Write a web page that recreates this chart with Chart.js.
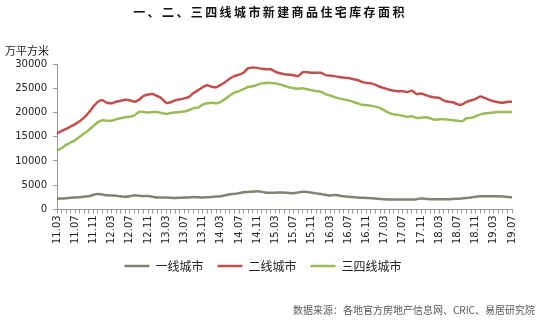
<!DOCTYPE html>
<html>
<head>
<meta charset="utf-8">
<script src="https://cdn.jsdelivr.net/npm/chart.js@4"></script>
<style>
    body { margin: 0; background: #fff; }
    #wrap { position: relative; width: 540px; height: 324px; }
    #chart { position: absolute; left: 0; top: 0; }
    .txt { position: absolute; font-family: "Noto Sans CJK SC", sans-serif; white-space: nowrap; }
    #title { left: 0; width: 540px; top: 3px; text-align: center; font-size: 12px; font-weight: bold; letter-spacing: 2.4px; color: #111; }
    #unit { left: 5px; top: 42px; font-size: 11px; color: #222; }
    #source { right: 5px; top: 302px; font-size: 10px; color: #595959; }
</style>
</head>
<body>
<div id="wrap">
    <canvas id="chart" width="540" height="324"></canvas>
    <div class="txt" id="title">一、二、三四线城市新建商品住宅库存面积</div>
    <div class="txt" id="unit">万平方米</div>
    <div class="txt" id="source">数据来源：各地官方房地产信息网、CRIC、易居研究院</div>
</div>
<script>
// months 2011.03 - 2019.07
const months = [];
for (let y = 11; y <= 19; y++) {
    for (let m = 1; m <= 12; m++) {
        if ((y === 11 && m < 3) || (y === 19 && m > 7)) continue;
        months.push(y + "." + String(m).padStart(2, "0"));
    }
}

const seriesNames = ["一线城市", "二线城市", "三四线城市"];

const tier1 = [
    2200, 2250, 2300, 2400, 2450, 2500, 2650, 2700, 3000, 3150,
    3050, 2900, 2850, 2800, 2700, 2600, 2700, 2900, 2800, 2750,
    2750, 2600, 2450, 2450, 2450, 2400, 2350, 2400, 2450, 2450,
    2550, 2500, 2450, 2500, 2550, 2650, 2700, 2900, 3100, 3200,
    3350, 3550, 3600, 3650, 3750, 3650, 3450, 3450, 3450, 3500,
    3450, 3400, 3350, 3500, 3650, 3600, 3450, 3300, 3150, 3000,
    2850, 2950, 2850, 2700, 2600, 2550, 2450, 2400, 2350, 2300,
    2250, 2150, 2100, 2050, 2050, 2050, 2050, 2050, 2050, 2100,
    2250, 2200, 2100, 2100, 2100, 2100, 2100, 2150, 2200, 2250,
    2350, 2450, 2600, 2700, 2700, 2700, 2700, 2700, 2650, 2550,
    2500
];

const tier2 = [
    15600, 16200, 16600, 17100, 17600, 18200, 19000, 20000, 21200, 22200,
    22500, 22000, 21900, 22200, 22400, 22600, 22500, 22200, 22600, 23400,
    23700, 23800, 23400, 22900, 22000, 22100, 22500, 22700, 22900, 23200,
    24000, 24600, 25200, 25600, 25300, 25200, 25700, 26300, 27000, 27500,
    27800, 28200, 29100, 29300, 29200, 29000, 28900, 28900, 28400, 28100,
    27900, 27800, 27700, 27500, 28300, 28300, 28200, 28200, 28200, 27700,
    27600, 27500, 27300, 27200, 27100, 26900, 26700, 26300, 26100, 26000,
    25700, 25300, 25000, 24700, 24500, 24400, 24400, 24200, 24500, 23800,
    23900, 23600, 23300, 23100, 23000, 22500, 22200, 22100, 21700, 21600,
    22200, 22500, 22800, 23300, 23000, 22600, 22300, 22100, 22000, 22200,
    22200
];

const tier34 = [
    12100, 12600, 13300, 13800, 14300, 15000, 15700, 16400, 17200, 18000,
    18400, 18300, 18300, 18600, 18800, 19000, 19100, 19400, 20100, 20100,
    20000, 20100, 20100, 19900, 19700, 19900, 20000, 20100, 20200, 20500,
    20900, 21000, 21600, 21900, 22000, 21900, 22200, 22800, 23500, 24100,
    24400, 24800, 25300, 25400, 25700, 26000, 26100, 26100, 26000, 25800,
    25500, 25200, 25000, 24900, 25000, 24800, 24600, 24400, 24300, 23800,
    23500, 23200, 22900, 22700, 22500, 22200, 21900, 21600, 21500, 21400,
    21200, 20900, 20400, 19900, 19600, 19500, 19300, 19100, 19200, 18900,
    18900, 19000, 18800, 18500, 18600, 18600, 18500, 18400, 18300, 18200,
    18800, 18900, 19200, 19600, 19800, 19900, 20000, 20100, 20100, 20100,
    20100
];

const colors = ["#7b8570", "#c0504d", "#9bbb59"];

function makeSet(name, data, color) {
    return {
        label: name,
        data: data,
        borderColor: color,
        backgroundColor: color,
        borderWidth: 2.5,
        pointRadius: 0,
        tension: 0.2
    };
}

new Chart(document.getElementById("chart"), {
    type: "line",
    data: {
        labels: months,
        datasets: [
            makeSet(seriesNames[0], tier1, colors[0]),
            makeSet(seriesNames[1], tier2, colors[1]),
            makeSet(seriesNames[2], tier34, colors[2])
        ]
    },
    options: {
        responsive: false,
        animation: false,
        layout: { padding: { top: 64, right: 28, bottom: 42, left: 14 } },
        plugins: {
            title: { display: false },
            tooltip: { enabled: false },
            legend: {
                position: "bottom",
                labels: {
                    usePointStyle: true,
                    pointStyle: "line",
                    pointStyleWidth: 25,
                    boxHeight: 12,
                    padding: 14,
                    color: "#222",
                    font: { family: "Noto Sans CJK SC", size: 12 }
                }
            }
        },
        scales: {
            x: {
                offset: false,
                grid: { display: true, drawOnChartArea: false, tickLength: 4, color: "#999" },
                border: { display: true, color: "#999" },
                ticks: {
                    autoSkip: false,
                    maxRotation: 90,
                    minRotation: 90,
                    padding: 2,
                    color: "#222",
                    font: { family: "DejaVu Sans", size: 10 },
                    callback: function(value, index) {
                        return index % 4 === 0 ? months[index] : "";
                    }
                }
            },
            y: {
                min: 0,
                max: 30000,
                afterFit: function(scale) { scale.width = 43; },
                grid: { display: true, drawOnChartArea: false, tickLength: 4, color: "#999" },
                border: { display: true, color: "#999" },
                ticks: {
                    stepSize: 5000,
                    padding: 6,
                    color: "#222",
                    font: { family: "DejaVu Sans", size: 10 },
                    callback: function(value) { return String(value); }
                }
            }
        }
    }
});
</script>
</body>
</html>
